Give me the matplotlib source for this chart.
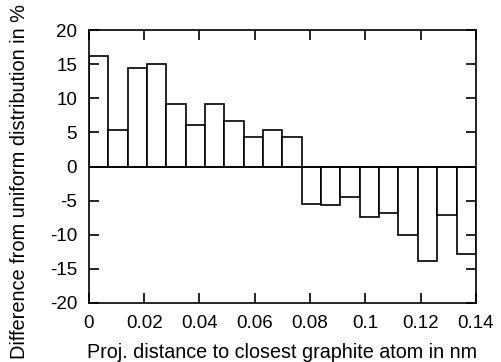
import matplotlib
matplotlib.use("Agg")
import matplotlib.pyplot as plt
import numpy as np

plt.rcParams['font.family'] = ['Liberation Sans', 'DejaVu Sans']
plt.rcParams['axes.unicode_minus'] = False

bin_width = 0.007
bin_left = [i * 0.007 for i in range(20)]
values = [16.2, 5.4, 14.4, 15.0, 9.1, 6.1, 9.2, 6.6, 4.3, 5.4,
          4.3, -5.5, -5.6, -4.5, -7.4, -6.8, -10.0, -13.8, -7.1, -12.8]
xticks = [0, 0.02, 0.04, 0.06, 0.08, 0.1, 0.12, 0.14]
xticklabels = ["0", "0.02", "0.04", "0.06", "0.08", "0.1", "0.12", "0.14"]
yticks = [-20, -15, -10, -5, 0, 5, 10, 15, 20]

fig = plt.figure(figsize=(5.02, 3.62), dpi=100)
ax = fig.add_axes([0.177, 0.163, 0.771, 0.754])
ax.bar(bin_left, values, width=bin_width, align='edge', facecolor='white',
       edgecolor='black', linewidth=1.2)
ax.axhline(0, color='black', linewidth=1.2)
ax.set_xlim(0, 0.14)
ax.set_ylim(-20, 20)
ax.set_xticks(xticks)
ax.set_xticklabels(xticklabels)
ax.set_yticks(yticks)
ax.tick_params(direction='in', length=7, width=1.2, top=True, right=True,
               labelsize=13.5)
ax.tick_params(axis='x', pad=9)
ax.tick_params(axis='y', pad=8.5)
for s in ax.spines.values():
    s.set_linewidth(1.2)
ax.set_xlabel("Proj. distance to closest graphite atom in nm", fontsize=14.2)
ax.set_ylabel("Difference from uniform distribution in %", fontsize=14.4)
ax.xaxis.set_label_coords(0.5, -0.1465)
ax.yaxis.set_label_coords(-0.1545, 0.445)
fig.savefig("out.png", dpi=100)
